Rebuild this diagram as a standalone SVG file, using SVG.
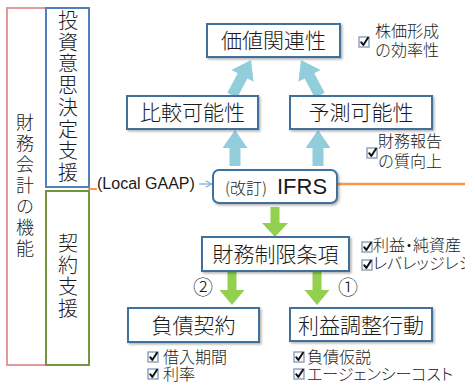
<svg xmlns="http://www.w3.org/2000/svg" width="465" height="385" viewBox="0 0 465 385">
<style>
.jp{font-family:"Noto Sans CJK JP","Noto Sans",sans-serif;fill:#1a1a1a;font-weight:300}
.node{fill:#fff;stroke:#41719C;stroke-width:2}
.lbl{font-size:21px;text-anchor:middle}
.sm{font-size:16px}
.pa{font-feature-settings:"palt" 1}
.col{font-size:20px;text-anchor:middle}
.blueArr{fill:#92CDDC}
.greenArr{fill:#92D050}
.cb{fill:#fff;stroke:#7F96B2;stroke-width:1.3}
.ck{fill:none;stroke:#111;stroke-width:2;stroke-linecap:round;stroke-linejoin:round}
</style>
<defs>
<filter id="sh" x="-10%" y="-10%" width="130%" height="140%">
<feDropShadow dx="1.5" dy="1.5" stdDeviation="0.8" flood-color="#000" flood-opacity="0.3"/>
</filter>
<g id="chk"><rect class="cb" x="0" y="0" width="10" height="10"/><path class="ck" d="M2.2,5.2 L4.3,8 L9,0.8"/></g>
<marker id="open" viewBox="0 0 10 10" refX="9" refY="5" markerWidth="8" markerHeight="8" orient="auto" markerUnits="userSpaceOnUse">
<path d="M1,1 L9,5 L1,9" fill="none" stroke="#7BA7D7" stroke-width="1.3"/>
</marker>
</defs>
<rect width="465" height="385" fill="#fff"/>

<g id="func">
<rect x="7" y="8" width="82" height="357" fill="#fff" stroke="#E29A9A" stroke-width="2"/>
<text class="jp" style="font-size:18px" text-anchor="middle" x="25 25 25 25 25 25 25" y="129 150 171 192 213 234 255">財務会計の機能</text>
</g>
<g id="invest">
<rect x="46" y="8" width="43" height="179" fill="#fff" stroke="#4F81BD" stroke-width="2"/>
<text class="jp col" x="68 68 68 68 68 68 68 68" y="28 49.7 71.4 93 114.8 136.5 158.2 180">投資意思決定支援</text>
</g>
<g id="contract">
<rect x="46" y="191" width="43" height="174" fill="#fff" stroke="#77933C" stroke-width="2"/>
<text class="jp col" x="68 68 68 68" y="251 272.5 294 315.5">契約支援</text>
</g>

<g id="connectors">
<line x1="89" y1="189" x2="97" y2="189" stroke="#F79646" stroke-width="2"/>
<line x1="337" y1="184" x2="465" y2="184" stroke="#F79646" stroke-width="2.5"/>
<line x1="199" y1="184" x2="212" y2="184" stroke="#7BA7D7" stroke-width="1.2" marker-end="url(#open)"/>
<path class="blueArr" d="M0,0 L12.5,18 L5.5,18 L5.5,36 L-5.5,36 L-5.5,18 L-12.5,18 Z" transform="translate(235,130)"/>
<path class="blueArr" d="M0,0 L12.5,18 L5.5,18 L5.5,36 L-5.5,36 L-5.5,18 L-12.5,18 Z" transform="translate(318,130)"/>
<path class="blueArr" d="M0,0 L12.5,18 L5.5,18 L5.5,40 L-5.5,40 L-5.5,18 L-12.5,18 Z" transform="translate(251,60) rotate(28)"/>
<path class="blueArr" d="M0,0 L12.5,18 L5.5,18 L5.5,40 L-5.5,40 L-5.5,18 L-12.5,18 Z" transform="translate(301,60) rotate(-28)"/>
<path class="greenArr" d="M0,0 L13,-14 L4.5,-14 L4.5,-30 L-4.5,-30 L-4.5,-14 L-13,-14 Z" transform="translate(275,237)"/>
<path class="greenArr" d="M0,0 L12.5,-15 L4.5,-15 L4.5,-33 L-4.5,-33 L-4.5,-15 L-12.5,-15 Z" transform="translate(232,305)"/>
<path class="greenArr" d="M0,0 L12.5,-15 L4.5,-15 L4.5,-33 L-4.5,-33 L-4.5,-15 L-12.5,-15 Z" transform="translate(317,305)"/>
</g>

<g id="localgaap">
<text x="97" y="189" style="font-family:'Liberation Sans',Arial,sans-serif;font-size:16px;fill:#1a1a1a">(Local GAAP)</text>
</g>

<g id="value">
<rect class="node" x="207" y="24" width="133" height="33" filter="url(#sh)"/>
<text class="jp lbl" x="273.5" y="48">価値関連性</text>
</g>
<g id="compar">
<rect class="node" x="127" y="96" width="131" height="33" filter="url(#sh)"/>
<text class="jp lbl" x="192.5" y="120">比較可能性</text>
</g>
<g id="predict">
<rect class="node" x="290" y="96" width="142" height="33" filter="url(#sh)"/>
<text class="jp lbl" x="361" y="120">予測可能性</text>
</g>
<g id="ifrs">
<rect class="node" x="213" y="170" width="124" height="33" rx="6" filter="url(#sh)"/>
<text x="225" y="194" class="jp"><tspan style="font-size:16px">(改訂)</tspan><tspan x="277" style="font-family:'Liberation Sans',Arial,sans-serif;font-size:22px">IFRS</tspan></text>
</g>
<g id="covenant">
<rect class="node" x="202" y="237" width="147" height="34" filter="url(#sh)"/>
<text class="jp lbl" x="275.5" y="262">財務制限条項</text>
</g>
<g id="debt">
<rect class="node" x="128" y="308" width="131" height="34" filter="url(#sh)"/>
<text class="jp lbl" x="193.5" y="333">負債契約</text>
</g>
<g id="earnings">
<rect class="node" x="290" y="308" width="142" height="33" filter="url(#sh)"/>
<text class="jp lbl" x="361" y="333">利益調整行動</text>
</g>

<g id="note-price">
<use href="#chk" x="359" y="37"/>
<text class="jp sm" x="375" y="37">株価形成</text>
<text class="jp sm" x="375" y="56">の効率性</text>
</g>
<g id="note-report">
<use href="#chk" x="367" y="148"/>
<text class="jp sm" x="378" y="147">財務報告</text>
<text class="jp sm" x="378" y="167">の質向上</text>
</g>
<g id="note-cov">
<use href="#chk" x="362" y="242"/>
<text class="jp sm pa" x="373" y="251">利益・純資産</text>
<use href="#chk" x="362" y="260"/>
<text class="jp sm pa" x="373" y="269">レバレッジレシ</text>
</g>
<g id="note-debt">
<use href="#chk" x="148" y="352"/>
<text class="jp sm" x="163" y="363">借入期間</text>
<use href="#chk" x="148" y="369"/>
<text class="jp sm" x="163" y="380">利率</text>
</g>
<g id="note-earn">
<use href="#chk" x="294" y="352"/>
<text class="jp sm" x="307" y="363">負債仮説</text>
<use href="#chk" x="294" y="369"/>
<text class="jp sm pa" x="307" y="380">エージェンシーコスト</text>
</g>
<g id="num2"><text class="jp" x="203" y="295" style="font-size:20px" text-anchor="middle">②</text></g>
<g id="num1"><text class="jp" x="348" y="295" style="font-size:20px" text-anchor="middle">①</text></g>
</svg>
